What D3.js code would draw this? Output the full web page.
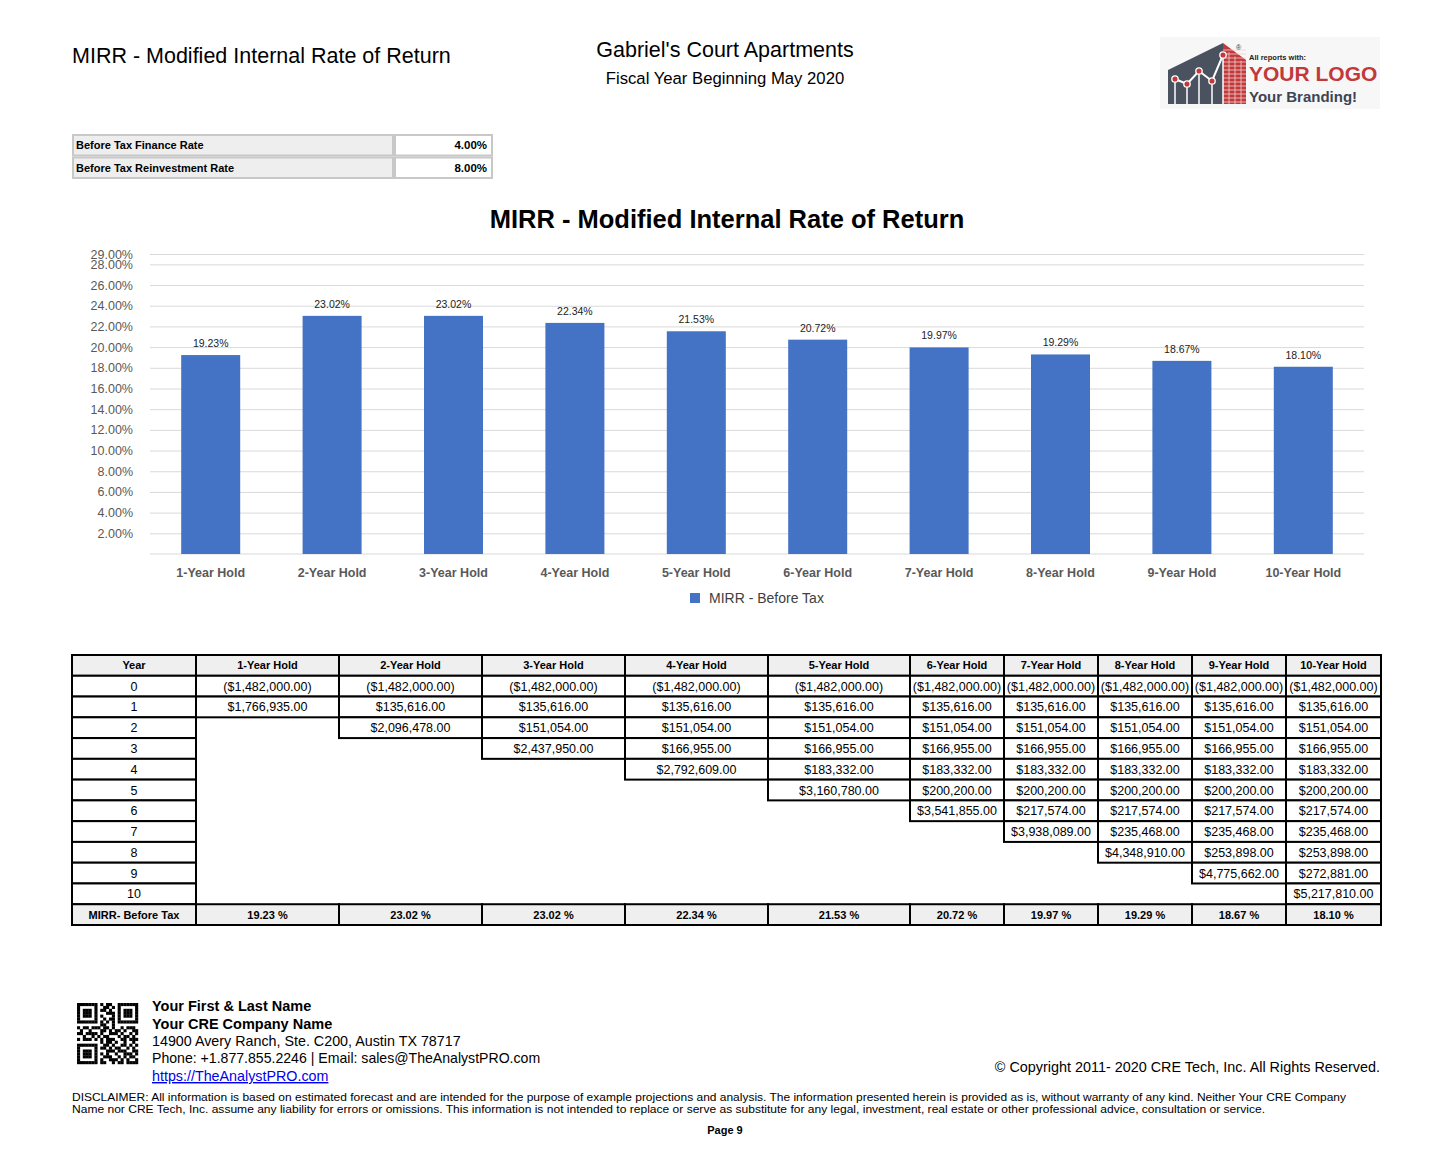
<!DOCTYPE html>
<html>
<head>
<meta charset="utf-8">
<script src="https://cdn.jsdelivr.net/npm/d3@7"></script>
<style>
  html, body { margin: 0; padding: 0; background: #fff; }
  svg { display: block; font-family: "Liberation Sans", Arial, Helvetica, sans-serif; }
</style>
</head>
<body>
<svg id="page" width="1454" height="1164"></svg>
<script>
// ---------------- DATA ----------------
const holds = ["1-Year Hold","2-Year Hold","3-Year Hold","4-Year Hold","5-Year Hold",
               "6-Year Hold","7-Year Hold","8-Year Hold","9-Year Hold","10-Year Hold"];
const mirrBeforeTax = [19.23, 23.02, 23.02, 22.34, 21.53, 20.72, 19.97, 19.29, 18.67, 18.10];
const yTickValues = [2,4,6,8,10,12,14,16,18,20,22,24,26,28,29];
const initialInvestment = -1482000;
const annualCashFlows = [135616, 151054, 166955, 183332, 200200, 217574, 235468, 253898, 272881]; // years 1..9
const saleYearCashFlows = [1766935, 2096478, 2437950, 2792609, 3160780, 3541855, 3938089, 4348910, 4775662, 5217810];
const years = [0,1,2,3,4,5,6,7,8,9,10];
const inputLabels = ["Before Tax Finance Rate", "Before Tax Reinvestment Rate"];
const inputValues = ["4.00%", "8.00%"];

// ---------------- SETUP ----------------
const svg = d3.select("#page");
const blue = "#4472C4";
const axisGray = "#595959";

// ---------------- HEADER ----------------
svg.append("text").attr("x", 72).attr("y", 63).attr("font-size", 21.5).attr("fill", "#000")
  .text("MIRR - Modified Internal Rate of Return");
svg.append("text").attr("x", 725).attr("y", 57).attr("text-anchor", "middle").attr("font-size", 21.5).attr("fill", "#000")
  .text("Gabriel's Court Apartments");
svg.append("text").attr("x", 725).attr("y", 84).attr("text-anchor", "middle").attr("font-size", 16.7).attr("fill", "#000")
  .text("Fiscal Year Beginning May 2020");

// ---------------- LOGO ----------------
const logo = svg.append("g");
logo.append("rect").attr("x", 1160).attr("y", 37).attr("width", 220).attr("height", 72).attr("fill", "#f7f7f7");
logo.append("polygon").attr("points", "1168,70 1223,43 1223,104 1168,104").attr("fill", "#4a5260");
logo.append("polygon").attr("points", "1223,43 1246,60 1246,104 1223,104").attr("fill", "#c1393b");
const brick = logo.append("g").attr("stroke", "#f2d0d0").attr("stroke-width", 0.8);
for (let yy = 50; yy < 104; yy += 4) {
  brick.append("line").attr("x1", 1223).attr("x2", 1246).attr("y1", yy).attr("y2", yy);
}
for (let xx = 1229; xx < 1246; xx += 6) {
  brick.append("line").attr("x1", xx).attr("x2", xx).attr("y1", 48 + (xx - 1223) * 0.7).attr("y2", 104);
}
const logoPts = [[1175,79],[1187,84],[1199,71],[1212,81],[1223,55]];
logoPts.forEach(p => logo.append("line").attr("x1", p[0]).attr("x2", p[0]).attr("y1", p[1]).attr("y2", 104)
  .attr("stroke", "#fff").attr("stroke-width", 1.5));
logo.append("path").attr("d", d3.line()(logoPts)).attr("fill", "none").attr("stroke", "#fff").attr("stroke-width", 2);
logoPts.forEach(p => logo.append("circle").attr("cx", p[0]).attr("cy", p[1]).attr("r", 3.2)
  .attr("fill", "#c1393b").attr("stroke", "#fff").attr("stroke-width", 1.3));
logo.append("text").attr("x", 1236).attr("y", 50).attr("font-size", 7).attr("fill", "#333").text("®");
logo.append("text").attr("x", 1249).attr("y", 60).attr("font-size", 7.5).attr("font-weight", "bold").attr("fill", "#222").text("All reports with:");
logo.append("text").attr("x", 1249).attr("y", 81).attr("font-size", 21).attr("font-weight", "bold").attr("fill", "#c1393b").text("YOUR LOGO");
logo.append("text").attr("x", 1249).attr("y", 102).attr("font-size", 15).attr("font-weight", "bold").attr("fill", "#3d4452").text("Your Branding!");

// ---------------- INPUT TABLE ----------------
const inRows = d3.scaleBand().domain(d3.range(inputLabels.length)).range([134, 179]).padding(0);
const inG = svg.append("g");
inputLabels.forEach((lab, i) => {
  const y0 = inRows(i);
  const h = inRows.bandwidth();
  inG.append("rect").attr("x", 73).attr("y", y0 + 1).attr("width", 320).attr("height", h - 2)
    .attr("fill", "#eeeeee").attr("stroke", "#c8c8c8").attr("stroke-width", 2);
  inG.append("rect").attr("x", 395).attr("y", y0 + 1).attr("width", 97).attr("height", h - 2)
    .attr("fill", "#fff").attr("stroke", "#c8c8c8").attr("stroke-width", 2);
  inG.append("text").attr("x", 76).attr("y", y0 + h / 2 + 4).attr("font-size", 11).attr("font-weight", "bold").text(lab);
  inG.append("text").attr("x", 487).attr("y", y0 + h / 2 + 4).attr("font-size", 11.5).attr("font-weight", "bold")
    .attr("text-anchor", "end").text(inputValues[i]);
});

// ---------------- CHART ----------------
svg.append("text").attr("x", 727).attr("y", 228).attr("text-anchor", "middle")
  .attr("font-size", 25.5).attr("font-weight", "bold").attr("fill", "#000")
  .text("MIRR - Modified Internal Rate of Return");

const plot = { left: 150, right: 1364, top: 254, bottom: 554 };
const x = d3.scaleBand().domain(holds).range([plot.left, plot.right]).paddingInner(0.514).paddingOuter(0.257);
const y = d3.scaleLinear().domain([0, 29]).range([plot.bottom, plot.top]);

const yAxis = d3.axisLeft(y).tickValues(yTickValues)
  .tickSize(-(plot.right - plot.left)).tickPadding(17)
  .tickFormat(d => d.toFixed(2) + "%");
const yg = svg.append("g").attr("transform", `translate(${plot.left},0)`).call(yAxis);
yg.select(".domain").remove();
yg.selectAll(".tick line").attr("stroke", "#d9d9d9").attr("stroke-width", 1);
yg.selectAll(".tick text").attr("fill", axisGray).attr("font-size", 12.5)
  .attr("font-family", "Liberation Sans, Arial, sans-serif");

svg.append("line").attr("x1", plot.left).attr("x2", plot.right).attr("y1", y(0)).attr("y2", y(0))
  .attr("stroke", "#d9d9d9").attr("stroke-width", 1);

svg.append("g").selectAll("rect").data(holds).join("rect")
  .attr("x", d => x(d)).attr("width", x.bandwidth())
  .attr("y", (d, i) => y(mirrBeforeTax[i])).attr("height", (d, i) => y(0) - y(mirrBeforeTax[i]))
  .attr("fill", blue);

svg.append("g").selectAll("text").data(holds).join("text")
  .attr("x", d => x(d) + x.bandwidth() / 2)
  .attr("y", (d, i) => y(mirrBeforeTax[i]) - 8)
  .attr("text-anchor", "middle").attr("font-size", 10.5).attr("fill", "#222")
  .text((d, i) => mirrBeforeTax[i].toFixed(2) + "%");

const xAxis = d3.axisBottom(x).tickSize(0).tickPadding(14);
const xg = svg.append("g").attr("transform", `translate(0,${plot.bottom})`).call(xAxis);
xg.select(".domain").remove();
xg.selectAll(".tick text").attr("fill", axisGray).attr("font-size", 12.5).attr("font-weight", "bold")
  .attr("font-family", "Liberation Sans, Arial, sans-serif");

svg.append("rect").attr("x", 690).attr("y", 593).attr("width", 10).attr("height", 10).attr("fill", blue);
svg.append("text").attr("x", 709).attr("y", 603).attr("font-size", 14).attr("fill", "#404040").text("MIRR - Before Tax");

// ---------------- DATA TABLE ----------------
const colEdges = [72, 196, 339, 482, 625, 768, 910, 1004, 1098, 1192, 1286, 1381];
const fmtMoney = v => {
  const s = "$" + d3.format(",.2f")(Math.abs(v));
  return v < 0 ? "(" + s + ")" : s;
};
function cellValue(holdIdx, yr) {
  const h = holdIdx + 1;
  if (yr === 0) return initialInvestment;
  if (yr < h) return annualCashFlows[yr - 1];
  if (yr === h) return saleYearCashFlows[holdIdx];
  return null;
}
const rowKeys = ["header", ...years.map(String), "mirr"];
const rowY = d3.scaleBand().domain(rowKeys).range([655, 925]).padding(0);
const tg = svg.append("g");
const rh = rowY.bandwidth();

function cell(c, rk, txt, opts = {}) {
  const x0 = colEdges[c], x1 = colEdges[c + 1];
  const y0 = rowY(rk);
  tg.append("rect").attr("x", x0).attr("y", y0).attr("width", x1 - x0).attr("height", rh)
    .attr("fill", opts.fill || "#fff").attr("stroke", "#000").attr("stroke-width", 2);
  tg.append("text").attr("x", (x0 + x1) / 2).attr("y", y0 + rh / 2 + (opts.bold ? 4 : 4.5))
    .attr("text-anchor", "middle").attr("font-size", opts.size || 12.5)
    .attr("font-weight", opts.bold ? "bold" : "normal").attr("fill", "#000").text(txt);
}
cell(0, "header", "Year", { fill: "#efefef", bold: true, size: 11 });
holds.forEach((h, i) => cell(i + 1, "header", h, { fill: "#efefef", bold: true, size: 11 }));
years.forEach(yr => {
  cell(0, String(yr), String(yr), { size: 12.5 });
  holds.forEach((h, i) => {
    const v = cellValue(i, yr);
    if (v !== null) cell(i + 1, String(yr), fmtMoney(v));
  });
});
cell(0, "mirr", "MIRR- Before Tax", { fill: "#efefef", bold: true, size: 11 });
mirrBeforeTax.forEach((v, i) => cell(i + 1, "mirr", v.toFixed(2) + " %", { fill: "#efefef", bold: true, size: 11 }));

// ---------------- FOOTER ----------------
const qrRows = [
  "1111111" + "0" + "10110" + "0" + "1111111",
  "1000001" + "0" + "01101" + "0" + "1000001",
  "1011101" + "0" + "11010" + "0" + "1011101",
  "1011101" + "0" + "00111" + "0" + "1011101",
  "1011101" + "0" + "10001" + "0" + "1011101",
  "1000001" + "0" + "01011" + "0" + "1000001",
  "1111111" + "0" + "10101" + "0" + "1111111",
  "00000000" + "11001" + "00000000",
  "101101110110100101110",
  "010010001101011010011",
  "110111101001110100101",
  "001001010110001011010",
  "101110101011100110111",
  "00000000" + "1011010010010",
  "1111111" + "0" + "0110100110101",
  "1000001" + "0" + "1101011001010",
  "1011101" + "0" + "0011101110011",
  "1011101" + "0" + "1010010011101",
  "1011101" + "0" + "0111001010110",
  "1000001" + "0" + "1001110101001",
  "1111111" + "0" + "1100101101111"
];
const qs = 61 / 21;
const qr = svg.append("g").attr("transform", "translate(77,1003)");
qrRows.forEach((row, r) => {
  row.split("").forEach((b, c) => {
    if (b === "1") qr.append("rect").attr("x", c * qs).attr("y", r * qs).attr("width", qs + 0.2).attr("height", qs + 0.2).attr("fill", "#000");
  });
});

svg.append("text").attr("x", 152).attr("y", 1011).attr("font-size", 14.5).attr("font-weight", "bold").text("Your First & Last Name");
svg.append("text").attr("x", 152).attr("y", 1029).attr("font-size", 14.5).attr("font-weight", "bold").text("Your CRE Company Name");
svg.append("text").attr("x", 152).attr("y", 1046).attr("font-size", 14.3).text("14900 Avery Ranch, Ste. C200, Austin TX 78717");
svg.append("text").attr("x", 152).attr("y", 1063).attr("font-size", 14.1).text("Phone: +1.877.855.2246 | Email: sales@TheAnalystPRO.com");
svg.append("text").attr("x", 152).attr("y", 1081).attr("font-size", 14.3).attr("fill", "#0000ee")
  .attr("text-decoration", "underline").text("https://TheAnalystPRO.com");
svg.append("text").attr("x", 1380).attr("y", 1072).attr("font-size", 14.4).attr("text-anchor", "end")
  .text("© Copyright 2011- 2020 CRE Tech, Inc. All Rights Reserved.");
svg.append("text").attr("x", 72).attr("y", 1101).attr("font-size", 11.2)
  .attr("textLength", 1274).attr("lengthAdjust", "spacingAndGlyphs")
  .text("DISCLAIMER: All information is based on estimated forecast and are intended for the purpose of example projections and analysis. The information presented herein is provided as is, without warranty of any kind. Neither Your CRE Company");
svg.append("text").attr("x", 72).attr("y", 1113).attr("font-size", 11.2)
  .attr("textLength", 1193).attr("lengthAdjust", "spacingAndGlyphs")
  .text("Name nor CRE Tech, Inc. assume any liability for errors or omissions. This information is not intended to replace or serve as substitute for any legal, investment, real estate or other professional advice, consultation or service.");
svg.append("text").attr("x", 725).attr("y", 1134).attr("font-size", 11).attr("font-weight", "bold").attr("text-anchor", "middle").text("Page 9");
</script>
</body>
</html>
